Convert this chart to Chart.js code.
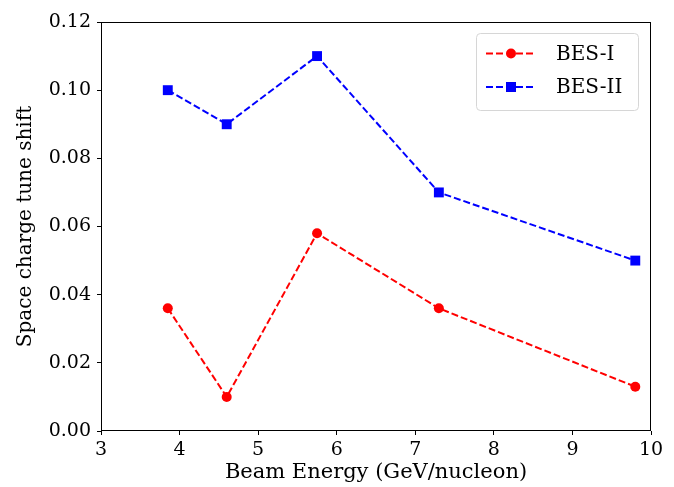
<!DOCTYPE html>
<html>
<head>
<meta charset="utf-8">
<script src="https://cdn.jsdelivr.net/npm/chart.js@4"></script>
<style>
  html, body { margin: 0; padding: 0; background: #fff; }
  #wrap { width: 674px; height: 487px; }
</style>
</head>
<body>
<div id="wrap"><canvas id="myChart" width="674" height="487"></canvas></div>
<script>
// beam energy per nucleon for each run
var energies = [3.85, 4.6, 5.75, 7.3, 9.8]
var tuneShiftBES1 = [0.036, 0.010, 0.058, 0.036, 0.013]
var tuneShiftBES2 = [0.10, 0.09, 0.11, 0.07, 0.05]

var serif = "'DejaVu Serif', serif"

function toPoints(xs, ys) {
  var res = []
  for (var i = 0; i < xs.length; i++) {
    res.push({ x: xs[i], y: ys[i] })
  }
  return res
}

// box around the plot area
var frame = {
  id: 'frame',
  afterDatasetsDraw: function (chart) {
    var c = chart.ctx, a = chart.chartArea
    c.save()
    c.strokeStyle = '#000'
    c.lineWidth = 1
    c.strokeRect(Math.round(a.left) + 0.5, Math.round(a.top) + 0.5,
      Math.round(a.right - a.left) - 1, Math.round(a.bottom - a.top) - 1)
    c.restore()
  }
}

// legend in the upper right corner, dashed line with the marker on it
var cornerLegend = {
  id: 'cornerLegend',
  afterDraw: function (chart) {
    var c = chart.ctx
    var x0 = 476, y0 = 33, w = 162, h = 77
    c.save()
    c.beginPath()
    c.roundRect(x0 + 0.5, y0 + 0.5, w, h, 4)
    c.fillStyle = 'rgba(255,255,255,0.8)'
    c.fill()
    c.strokeStyle = '#d6d6d6'
    c.lineWidth = 1
    c.stroke()
    chart.data.datasets.forEach(function (ds, i) {
      var y = 53.5 + i * 33.5
      c.beginPath()
      c.setLineDash(ds.borderDash)
      c.strokeStyle = ds.borderColor
      c.lineWidth = ds.borderWidth
      c.moveTo(486, y)
      c.lineTo(536, y)
      c.stroke()
      c.setLineDash([])
      Chart.helpers.drawPoint(c, {
        pointStyle: ds.pointStyle,
        radius: ds.pointRadius,
        borderWidth: 0,
        rotation: 0
      }, 511, y)
      c.fillStyle = ds.pointBackgroundColor
      c.fill()
      c.fillStyle = '#000'
      c.font = '20px ' + serif
      c.textBaseline = 'middle'
      c.fillText(ds.label, 556, y + 1)
    })
    c.restore()
  }
}

const ctx = document.getElementById('myChart')
var a = new Chart(ctx, {
  type: 'line',
  data: {
    datasets: [
      {
        label: 'BES-I',
        data: toPoints(energies, tuneShiftBES1),
        borderColor: '#ff0000',
        borderWidth: 2,
        borderDash: [7, 3],
        pointStyle: 'circle',
        pointRadius: 5,
        pointBorderWidth: 0,
        pointBackgroundColor: '#ff0000',
        tension: 0
      },
      {
        label: 'BES-II',
        data: toPoints(energies, tuneShiftBES2),
        borderColor: '#0000ff',
        borderWidth: 2,
        borderDash: [7, 3],
        pointStyle: 'rect',
        pointRadius: 7,
        pointBorderWidth: 0,
        pointBackgroundColor: '#0000ff',
        tension: 0
      }
    ]
  },
  options: {
    responsive: false,
    animation: false,
    events: [],
    layout: { padding: { left: 0, right: 23, top: 22, bottom: 0 } },
    plugins: {
      legend: { display: false },
      tooltip: { enabled: false }
    },
    scales: {
      x: {
        type: 'linear',
        min: 3,
        max: 10,
        afterFit: function (s) { s.height = 56 },
        border: { display: false },
        grid: { drawOnChartArea: false, tickLength: 4, color: '#000' },
        ticks: {
          stepSize: 1,
          padding: 4,
          color: '#000',
          font: { family: serif, size: 19 },
          maxRotation: 0
        },
        title: {
          display: true,
          text: 'Beam Energy (GeV/nucleon)',
          color: '#000',
          font: { family: serif, size: 21 },
          padding: { top: 0, bottom: 2 }
        }
      },
      y: {
        min: 0,
        max: 0.12,
        afterFit: function (s) { s.width = 101 },
        border: { display: false },
        grid: { drawOnChartArea: false, tickLength: 4, color: '#000' },
        ticks: {
          stepSize: 0.02,
          padding: 6,
          color: '#000',
          font: { family: serif, size: 19 },
          callback: function (v) { return v.toFixed(2) }
        },
        title: {
          display: true,
          text: 'Space charge tune shift',
          color: '#000',
          font: { family: serif, size: 20 },
          padding: { top: 14, bottom: 0 }
        }
      }
    }
  },
  plugins: [frame, cornerLegend]
})
</script>
</body>
</html>
